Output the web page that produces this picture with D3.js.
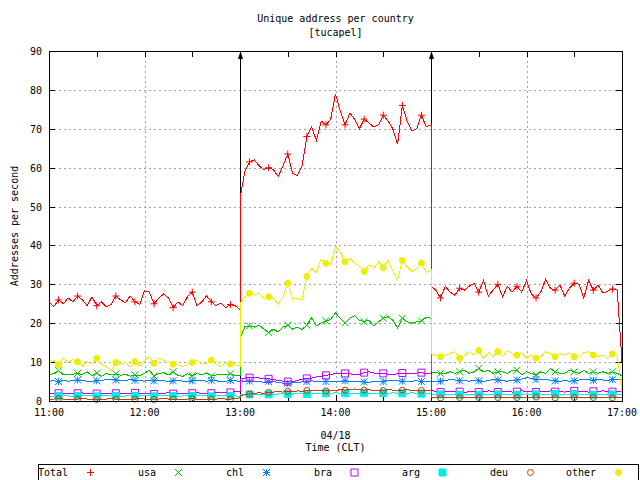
<!DOCTYPE html>
<html>
<head>
<meta charset="utf-8">
<script src="https://cdn.jsdelivr.net/npm/d3@7"></script>
<style>
  body { margin: 0; background: #fff; }
  text { font-family: "DejaVu Sans Mono", monospace; font-size: 10px; fill: #000; }
</style>
</head>
<body>
<div id="chart"></div>
<script>
const seriesNames = ["Total", "usa", "chl", "bra", "arg", "deu", "other"];
const seriesColors = ["#ff0000", "#00c000", "#0080ff", "#c000ff", "#00eeee", "#c04000", "#eeee00"];
const seriesSymbols = ["plus", "cross", "star", "square", "squareFill", "circle", "circleFill"];

// three 2 hour blocks sampled every 3 min, block edges sampled twice
const blockStart = [0, 120, 240];
const stepMin = 3, perBlock = 41;
const sampleMinutes = blockStart.flatMap((s) => d3.range(perBlock).map((i) => s + i * stepMin));

const total = [
  25.5, 24.3, 26, 25, 26.5, 25.5, 27, 26, 24.5, 26.8, 24.5, 25.5, 24.2, 24.8, 27, 26, 25.3, 27, 25.5, 24.8,
  28.3, 28, 25, 26.5, 27.5, 26.5, 24, 25.5, 24.5, 26.8, 28, 24.5, 25.5, 27, 25.5, 24.5, 25.2, 24, 24.8, 24.5, 23.5,
  52, 59, 61.5, 62, 60.5, 59.5, 60, 59.5, 57.7, 60.5, 63.5, 58.5, 58, 60.5, 68, 70.5, 67, 72, 71, 72.5,
  79, 74.5, 71, 74, 72.5, 70, 72.5, 71.5, 70.5, 71, 73.5, 72, 70, 66, 76, 72, 69.5, 70, 73.5, 70.5, 71,
  29.5, 28.5, 26.5, 29.5, 28, 27.2, 29, 28.5, 29.5, 30.3, 28, 31, 27, 28.5, 30, 26.8, 29.5, 28, 29.5, 28,
  31, 27.5, 26.5, 28, 31.3, 29, 28.5, 29.8, 27, 29, 30.3, 30, 26.5, 31, 28.5, 29.8, 27.8, 28.2, 28.8, 28.5, 10
];
const usa = [
  6.7, 7.1, 7.8, 6.8, 6.7, 6.9, 7.1, 6.8, 7.5, 6.5, 7.2, 6.3, 7.1, 6.7, 7, 6.6, 6.9, 6.4, 6.7, 6.5,
  7.1, 7.9, 6.4, 7, 7.3, 6.7, 7.5, 6.6, 6.3, 7, 6.5, 7.1, 6.7, 7.2, 6.4, 6.7, 6.9, 6.8, 7, 6.5, 6.6,
  16, 19.1, 19.3, 19, 19.5, 18.5, 17.6, 18.4, 17.8, 19, 19.5, 18.5, 19, 18.4, 19.5, 21.5, 19.3, 20.1, 20.6, 21,
  22.7, 21.2, 20.1, 21.3, 21.9, 20.8, 20.4, 20.8, 19.3, 20.4, 21.3, 21.7, 20.8, 18.7, 21.3, 20.4, 20, 20.4, 20.6, 21.5, 21.3,
  7.5, 7.3, 7.1, 7.1, 7.5, 7.1, 7.5, 7.9, 7.1, 7.5, 8.4, 7.5, 7.9, 7.1, 7.5, 7.5, 7.1, 7.9, 7.9, 6.7,
  7.5, 7.1, 6.7, 7.5, 7.1, 8.4, 7.5, 7.1, 7.1, 7.9, 7.5, 7.1, 7.9, 7.1, 7.5, 7.1, 7.5, 7.1, 7.5, 7.1, 6.5
];
const chl = [
  5.1, 5.2, 5.0, 5.3, 5.1, 5.2, 5.4, 5.3, 5.1, 5.0, 5.2, 5.3, 5.5, 5.6, 5.4, 5.2, 5.3, 5.5, 5.3, 5.2,
  5.1, 5.3, 5.2, 5.4, 5.2, 5.0, 5.2, 5.3, 5.1, 5.0, 5.2, 5.4, 5.2, 5.1, 5.3, 5.2, 5.0, 5.1, 5.3, 5.2, 5.0,
  5.3, 5.0, 5.1, 4.9, 5.0, 4.8, 5.0, 5.1, 4.7, 4.6, 4.5, 4.7, 4.8, 4.9, 5.0, 5.2, 5.0, 5.1, 5.0, 4.9,
  5.1, 5.0, 5.2, 5.0, 5.1, 5.0, 4.9, 4.8, 5.0, 5.1, 5.0, 5.3, 5.4, 5.2, 5.1, 5.0, 5.1, 5.2, 5.0, 5.1, 5.0,
  5.2, 5.0, 5.1, 5.3, 5.5, 5.4, 5.2, 5.3, 5.1, 5.3, 5.2, 5.0, 5.3, 5.5, 5.4, 5.2, 5.1, 5.3, 5.4, 5.6,
  6.0, 5.8, 5.5, 5.4, 5.6, 5.3, 5.2, 5.0, 5.3, 5.1, 5.2, 5.4, 5.6, 5.5, 5.3, 5.6, 5.4, 5.3, 5.5, 5.6, 5.4
];
const bra = [
  1.9, 1.9, 2.0, 2.0, 1.8, 1.9, 2.0, 2.1, 1.9, 1.8, 1.9, 2.0, 1.8, 1.9, 2.0, 1.9, 1.8, 2.0, 2.1, 1.9,
  2.0, 1.9, 1.8, 1.9, 2.0, 2.1, 1.9, 2.0, 1.9, 1.8, 2.0, 2.1, 2.0, 1.9, 2.0, 2.1, 2.2, 2.3, 2.2, 2.4, 2.5,
  5.8, 5.9, 6.0, 6.1, 5.9, 5.8, 5.7, 5.5, 5.3, 5.1, 5.0, 5.0, 5.3, 5.6, 5.8, 5.9, 6.2, 6.4, 6.6, 6.8,
  7.1, 7.0, 7.1, 7.0, 6.7, 6.8, 7.3, 7.5, 7.2, 7.0, 7.1, 6.9, 6.7, 7.1, 7.2, 7.0, 7.0, 7.2, 7.3, 7.0, 7.1,
  2.8, 2.4, 2.3, 2.4, 2.3, 2.5, 2.4, 2.2, 2.4, 2.5, 2.3, 2.4, 2.6, 2.5, 2.3, 2.4, 2.5, 2.3, 2.4, 2.6,
  2.5, 2.4, 2.3, 2.5, 2.4, 2.6, 2.4, 2.5, 2.3, 2.4, 2.6, 2.5, 2.4, 2.3, 2.5, 2.4, 2.6, 2.5, 2.4, 2.5, 2.4
];
const arg = [
  1.3, 1.2, 1.3, 1.4, 1.3, 1.2, 1.3, 1.3, 1.4, 1.3, 1.2, 1.3, 1.4, 1.3, 1.3, 1.2, 1.3, 1.4, 1.3, 1.3,
  1.4, 1.3, 1.2, 1.3, 1.3, 1.4, 1.3, 1.2, 1.3, 1.4, 1.3, 1.3, 1.4, 1.3, 1.2, 1.3, 1.3, 1.4, 1.3, 1.3, 1.2,
  1.6, 1.7, 1.7, 1.8, 1.7, 1.8, 1.7, 1.8, 1.8, 1.9, 1.8, 1.8, 1.9, 1.9, 1.8, 1.9, 2.0, 1.9, 2.0, 2.0,
  2.1, 2.0, 2.0, 1.9, 2.0, 2.0, 2.1, 2.0, 2.0, 1.9, 2.0, 2.0, 2.1, 2.0, 2.0, 2.0, 2.1, 2.0, 1.9, 2.0, 2.0,
  1.6, 1.6, 1.7, 1.6, 1.7, 1.7, 1.6, 1.7, 1.8, 1.7, 1.6, 1.7, 1.7, 1.8, 1.7, 1.6, 1.7, 1.7, 1.6, 1.7,
  1.8, 1.7, 1.7, 1.6, 1.7, 1.7, 1.8, 1.7, 1.6, 1.7, 1.7, 1.7, 1.8, 1.7, 1.6, 1.7, 1.7, 1.8, 1.7, 1.7, 1.6
];
const deu = [
  0.5, 0.5, 0.6, 0.5, 0.4, 0.5, 0.5, 0.6, 0.5, 0.5, 0.4, 0.5, 0.5, 0.6, 0.5, 0.4, 0.5, 0.5, 0.5, 0.6,
  0.5, 0.5, 0.4, 0.5, 0.6, 0.5, 0.5, 0.4, 0.5, 0.5, 0.6, 0.5, 0.5, 0.4, 0.5, 0.5, 0.6, 0.5, 0.5, 0.6, 0.8,
  1.4, 1.6, 1.8, 2.0, 2.1, 2.0, 2.2, 2.3, 2.4, 2.3, 2.5, 2.4, 2.6, 2.5, 2.7, 2.6, 2.8, 2.7, 2.6, 2.8,
  2.7, 2.9, 2.8, 3.0, 3.1, 2.9, 2.8, 2.9, 2.7, 2.8, 2.7, 2.9, 2.8, 2.7, 2.8, 2.9, 2.7, 2.8, 2.7, 2.6, 2.6,
  1.0, 0.9, 0.8, 0.9, 1.0, 0.8, 0.9, 0.9, 0.8, 1.0, 0.9, 0.8, 0.9, 1.0, 0.9, 0.8, 0.9, 1.0, 0.9, 0.8,
  0.9, 0.9, 1.0, 0.8, 0.9, 0.9, 0.8, 1.0, 0.9, 0.8, 0.9, 1.0, 0.9, 0.8, 0.9, 0.9, 1.0, 0.9, 0.8, 0.9, 0.9
];
const other = [
  9.7, 10.5, 9.3, 11, 9.9, 10.7, 10.1, 9, 10.1, 9.5, 11, 9.5, 8.8, 7.8, 9.9, 9.3, 9.9, 8.8, 10.1, 9,
  10.4, 11.4, 9.7, 11, 10.5, 10.1, 9.5, 9.3, 8.8, 9.5, 9.9, 10.5, 9.3, 9.7, 10.5, 9.5, 8.8, 9.7, 9.5, 9.3, 9,
  25.1, 26.8, 27.7, 27.2, 27.7, 26.4, 26.8, 26.4, 24.9, 26.8, 30.3, 26.2, 26.4, 26, 32, 34.1, 33, 36.5, 35.4, 35.2,
  39.6, 38.3, 35.8, 36.7, 35.5, 34.7, 33.3, 35, 34.1, 35.8, 34.3, 36.1, 33.5, 31.2, 36.1, 34.5, 33.3, 34.1, 35.5, 33, 33.7,
  12.2, 11.8, 11.4, 11.8, 12.2, 12.7, 11, 11.6, 12.7, 11.8, 13, 11, 12.4, 11.4, 12.7, 11.4, 13, 12.1, 11.8, 12.4,
  11, 11.8, 11, 11.4, 12.7, 12.1, 11.4, 12.2, 11.8, 12.4, 11.4, 11.4, 12.4, 12.7, 11.8, 11.4, 11.8, 11, 12.1, 11.8, 2
];
const seriesValues = [total, usa, chl, bra, arg, deu, other];

const yTickValues = [0, 10, 20, 30, 40, 50, 60, 70, 80, 90];
const markerMinutes = [120, 240]; // arrows at 13:00 and 15:00
const titleLines = ["Unique address per country", "[tucapel]"];
const xLabelLines = ["04/18", "Time (CLT)"];
const yLabel = "Addresses per second";

const W = 640, H = 480;
const margin = { top: 51, right: 18, bottom: 79, left: 49 };
const start = new Date(2012, 3, 18, 11, 0);
const end = new Date(2012, 3, 18, 17, 0);
const atMin = (m) => new Date(+start + m * 60000);

const x = d3.scaleTime().domain([start, end]).range([margin.left, W - margin.right]);
const y = d3.scaleLinear().domain([0, 90]).range([H - margin.bottom, margin.top]);
const x0 = x.range()[0], x1 = x.range()[1], y0 = y.range()[0], y1 = y.range()[1];

const svg = d3.select("#chart").append("svg").attr("width", W).attr("height", H);

// grid
const grid = svg.append("g").attr("stroke", "#a0a0a0").attr("stroke-dasharray", "2,3").attr("shape-rendering", "crispEdges");
grid.selectAll(".gx")
  .data(x.ticks(d3.timeHour.every(1)).slice(1, -1))
  .enter().append("line")
  .attr("x1", (d) => Math.round(x(d)) + 0.5).attr("x2", (d) => Math.round(x(d)) + 0.5)
  .attr("y1", y1).attr("y2", y0);
grid.selectAll(".gy")
  .data(yTickValues.slice(1, -1))
  .enter().append("line")
  .attr("x1", x0).attr("x2", x1)
  .attr("y1", (d) => Math.round(y(d)) + 0.5).attr("y2", (d) => Math.round(y(d)) + 0.5);

// ticks (inside, mirrored)
const ticks = svg.append("g").attr("stroke", "#000").attr("shape-rendering", "crispEdges");
const tickLen = 6;
x.ticks(d3.timeMinute.every(30)).forEach((d) => {
  const px = Math.round(x(d)) + 0.5;
  ticks.append("line").attr("x1", px).attr("x2", px).attr("y1", y0).attr("y2", y0 - tickLen);
  ticks.append("line").attr("x1", px).attr("x2", px).attr("y1", y1).attr("y2", y1 + tickLen);
});
yTickValues.forEach((v) => {
  const py = Math.round(y(v)) + 0.5;
  ticks.append("line").attr("x1", x0).attr("x2", x0 + tickLen).attr("y1", py).attr("y2", py);
  ticks.append("line").attr("x1", x1).attr("x2", x1 - tickLen).attr("y1", py).attr("y2", py);
});

// tick labels
svg.append("g").selectAll("text")
  .data(yTickValues)
  .enter().append("text")
  .attr("x", x0 - 7).attr("y", (d) => y(d) + 4)
  .attr("text-anchor", "end")
  .text((d) => d);
const fmt = d3.timeFormat("%H:%M");
svg.append("g").selectAll("text")
  .data(x.ticks(d3.timeHour.every(1)))
  .enter().append("text")
  .attr("x", (d) => x(d)).attr("y", y0 + 15)
  .attr("text-anchor", "middle")
  .text((d) => fmt(d));

// titles
svg.append("g").selectAll("text")
  .data(titleLines)
  .enter().append("text")
  .attr("x", (x0 + x1) / 2).attr("y", (d, i) => 22 + i * 14)
  .attr("text-anchor", "middle").text((d) => d);
svg.append("g").selectAll("text")
  .data(xLabelLines)
  .enter().append("text")
  .attr("x", (x0 + x1) / 2).attr("y", (d, i) => 439 + i * 12)
  .attr("text-anchor", "middle").text((d) => d);
svg.append("text")
  .attr("transform", `translate(18,${(y0 + y1) / 2}) rotate(-90)`)
  .attr("text-anchor", "middle").text(yLabel);

// arrows
const arrows = svg.append("g");
markerMinutes.forEach((m) => {
  const px = Math.round(x(atMin(m))) + 0.5;
  arrows.append("line").attr("x1", px).attr("x2", px).attr("y1", y0).attr("y2", y1 + 2)
    .attr("stroke", "#000").attr("shape-rendering", "crispEdges");
  arrows.append("path").attr("d", `M${px},${y1} L${px - 2.5},${y1 + 8} L${px + 2.5},${y1 + 8} Z`).attr("fill", "#000");
});

// point symbols
function symbolPath(kind, s) {
  switch (kind) {
    case "plus": return `M${-s},0H${s}M0,${-s}V${s}`;
    case "cross": return `M${-s},${-s}L${s},${s}M${-s},${s}L${s},${-s}`;
    case "star": return `M${-s},0H${s}M0,${-s}V${s}M${-s},${-s}L${s},${s}M${-s},${s}L${s},${-s}`;
    case "square":
    case "squareFill": return `M${-s},${-s}H${s}V${s}H${-s}Z`;
    default: return d3.arc()({ innerRadius: 0, outerRadius: s, startAngle: 0, endAngle: 2 * Math.PI });
  }
}
function drawSymbol(g, kind, color, cx, cy) {
  const filled = kind === "squareFill" || kind === "circleFill";
  const s = kind.startsWith("circle") ? 3 : 3.5;
  g.append("path")
    .attr("transform", `translate(${cx},${cy})`)
    .attr("d", symbolPath(kind, s))
    .attr("fill", filled ? color : "none")
    .attr("stroke", color)
    .attr("stroke-width", 1);
}

// series
const line = d3.line().x((d) => x(atMin(d[0]))).y((d) => y(d[1]));
const plot = svg.append("g");
seriesValues.forEach((vals, k) => {
  const pts = sampleMinutes.map((m, i) => [m, vals[i]]);
  plot.append("path").datum(pts)
    .attr("d", line)
    .attr("fill", "none")
    .attr("stroke", seriesColors[k])
    .attr("stroke-width", 1)
    .attr("shape-rendering", "crispEdges");
  pts.forEach((p, i) => {
    if (i % perBlock % 4 === 2) drawSymbol(plot, seriesSymbols[k], seriesColors[k], x(atMin(p[0])), y(p[1]));
  });
});

// frame
svg.append("rect")
  .attr("x", x0 + 0.5).attr("y", y1 + 0.5)
  .attr("width", x1 - x0).attr("height", y0 - y1)
  .attr("fill", "none").attr("stroke", "#000").attr("shape-rendering", "crispEdges");

// legend
const legend = svg.append("g");
legend.append("rect")
  .attr("x", 38.5).attr("y", 464.5).attr("width", 600).attr("height", 20)
  .attr("fill", "none").attr("stroke", "#000").attr("shape-rendering", "crispEdges");
seriesNames.forEach((name, i) => {
  legend.append("text").attr("x", 68 + 88 * i).attr("y", 476).attr("text-anchor", "end").text(name);
  drawSymbol(legend, seriesSymbols[i], seriesColors[i], 90.5 + 88 * i, 472.5);
});
</script>
</body>
</html>
